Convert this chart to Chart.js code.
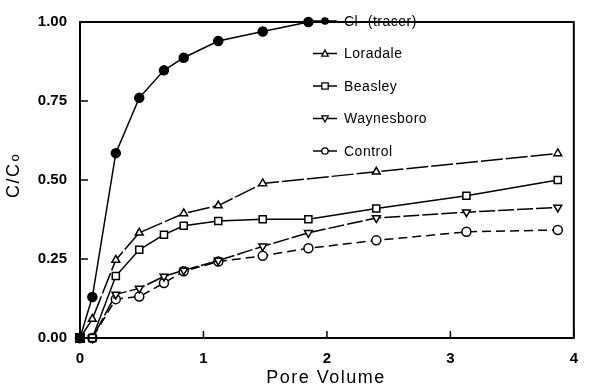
<!DOCTYPE html>
<html><head><meta charset="utf-8">
<script src="https://cdn.jsdelivr.net/npm/chart.js@4/dist/chart.umd.min.js"></script>
<style>html,body{margin:0;padding:0;background:#fff}#wrap{width:590px;height:387px}</style>
</head><body><div id="wrap"><canvas id="c" width="590" height="387"></canvas></div>
<script>
const seriesNames = ["Cl- (tracer)", "Loradale", "Beasley", "Waynesboro", "Control"];
const clPV = [0, 0.1, 0.29, 0.48, 0.68, 0.84, 1.12, 1.48, 1.85];
const clC  = [0, 0.13, 0.585, 0.76, 0.847, 0.887, 0.94, 0.97, 1.0];
const loPV = [0, 0.1, 0.29, 0.48, 0.84, 1.12, 1.48, 2.40, 3.87];
const loC  = [0, 0.06, 0.247, 0.333, 0.394, 0.419, 0.489, 0.526, 0.584];
const soilPV = [0, 0.1, 0.29, 0.48, 0.68, 0.84, 1.12, 1.48, 1.85, 2.40, 3.13, 3.87];
const beC  = [0, 0, 0.196, 0.279, 0.327, 0.355, 0.37, 0.376, 0.376, 0.41, 0.45, 0.50];
const waC  = [0, 0, 0.138, 0.157, 0.195, 0.214, 0.245, 0.29, 0.333, 0.38, 0.398, 0.413];
const coC  = [0, 0, 0.123, 0.131, 0.174, 0.211, 0.242, 0.26, 0.284, 0.309, 0.336, 0.342];
const yTicks = [0, 0.25, 0.5, 0.75, 1.0];
const xTicks = [0, 1, 2, 3, 4];
const xTitle = "Pore Volume";
const yTitleMain = "C/C", yTitleSub = "o";

const pts = (xs, ys) => xs.map((x, i) => ({x, y: ys[i]}));

const base = {borderColor:'#000', borderWidth:1.5, pointRadius:4.5, pointBorderWidth:1.5,
  pointBorderColor:'#000', pointBackgroundColor:'#fff', tension:0, clip:false, fill:false};

const datasets = [
  Object.assign({}, base, {label: seriesNames[0], data: pts(clPV, clC), pointBackgroundColor:'#000',
     pointStyle: clPV.map((v,i)=> i===0 ? 'rect' : 'circle'), pointRadius: clPV.map((v,i)=> i===0 ? 6 : 4.5)}),
  Object.assign({}, base, {label: seriesNames[1], data: pts(loPV, loC), pointStyle:'triangle', borderDash:[22,3]}),
  Object.assign({}, base, {label: seriesNames[2], data: pts(soilPV, beC), pointStyle:'rect', pointRadius:5}),
  Object.assign({}, base, {label: seriesNames[3], data: pts(soilPV, waC), pointStyle:'triangle', pointRotation:180, borderDash:[16,3]}),
  Object.assign({}, base, {label: seriesNames[4], data: pts(soilPV, coC), pointStyle:'circle', borderDash:[9,5]}),
];

function drawMarker(ctx, ds, x, y, r) {
  const style = Array.isArray(ds.pointStyle) ? ds.pointStyle[1] : ds.pointStyle;
  ctx.save();
  ctx.fillStyle = ds.pointBackgroundColor; ctx.strokeStyle = '#000'; ctx.lineWidth = 1.3; ctx.setLineDash([]);
  ctx.beginPath();
  if (style === 'circle') { ctx.arc(x, y, r, 0, Math.PI*2); }
  else if (style === 'rect') { ctx.rect(x-r, y-r, 2*r, 2*r); }
  else if (style === 'triangle') {
    const s = ds.pointRotation === 180 ? -1 : 1;
    ctx.moveTo(x, y - s*r*1.1); ctx.lineTo(x + r, y + s*r*0.8); ctx.lineTo(x - r, y + s*r*0.8); ctx.closePath();
  }
  ctx.fill(); ctx.stroke(); ctx.restore();
}

const decor = {
  id:'decor',
  afterDraw(chart) {
    const ctx = chart.ctx, a = chart.chartArea, xs = chart.scales.x, ys = chart.scales.y;
    ctx.save();
    ctx.strokeStyle = '#000'; ctx.lineWidth = 2;
    ctx.strokeRect(a.left, a.top, a.right - a.left, a.bottom - a.top);
    ctx.lineWidth = 1.5;
    yTicks.forEach(v => { const py = ys.getPixelForValue(v); ctx.beginPath(); ctx.moveTo(a.left, py); ctx.lineTo(a.left + 8, py); ctx.stroke(); });
    xTicks.forEach(v => { const px = xs.getPixelForValue(v); ctx.beginPath(); ctx.moveTo(px, a.bottom); ctx.lineTo(px, a.bottom - 7); ctx.stroke(); });
    // axis titles
    ctx.fillStyle = '#000';
    ctx.font = '18px "Liberation Sans", Arial, sans-serif';
    try { ctx.letterSpacing = '1.5px'; } catch(e) {}
    ctx.textAlign = 'center'; ctx.textBaseline = 'alphabetic';
    ctx.fillText(xTitle, (a.left + a.right)/2 - 1, 383);
    ctx.save();
    ctx.translate(19, 176); ctx.rotate(-Math.PI/2);
    ctx.textAlign = 'left';
    const w = ctx.measureText(yTitleMain).width;
    ctx.font = '13px "Liberation Sans", Arial, sans-serif';
    const w2 = ctx.measureText(yTitleSub).width;
    const x0 = -(w + w2)/2;
    ctx.font = '18px "Liberation Sans", Arial, sans-serif';
    ctx.fillText(yTitleMain, x0, 0);
    ctx.font = '13px "Liberation Sans", Arial, sans-serif';
    ctx.fillText(yTitleSub, x0 + w + 1, 0);
    ctx.restore();
    // legend
    ctx.font = '14px "Liberation Sans", Arial, sans-serif';
    try { ctx.letterSpacing = '0.5px'; } catch(e) {}
    ctx.textAlign = 'left'; ctx.textBaseline = 'middle';
    chart.data.datasets.forEach((ds, i) => {
      const y = 21 + i * 32.5;
      ctx.save();
      ctx.strokeStyle = '#000'; ctx.lineWidth = 1.5;
      ctx.beginPath(); ctx.moveTo(313, y); ctx.lineTo(337, y); ctx.stroke();
      ctx.restore();
      drawMarker(ctx, ds, 325, y, 3.2);
      ctx.fillText(ds.label, 344, y + 1);
    });
    ctx.restore();
  }
};

new Chart(document.getElementById('c'), {
  type:'line',
  data:{datasets},
  options:{
    responsive:false, animation:false, devicePixelRatio:1,
    layout:{padding:{left:0, right:8, top:11, bottom:0}},
    plugins:{legend:{display:false}, tooltip:{enabled:false}},
    scales:{
      x:{type:'linear', min:0, max:4,
        afterFit(s){ s.height = 49; },
        afterBuildTicks(s){ s.ticks = xTicks.map(v=>({value:v})); },
        grid:{display:false, drawTicks:false}, border:{display:false},
        ticks:{color:'#000', padding:12, font:{family:'"Liberation Sans", Arial, sans-serif', size:15, weight:'bold'}, callback:v=>String(v)}},
      y:{type:'linear', min:0, max:1,
        afterFit(s){ s.width = 80; },
        afterBuildTicks(s){ s.ticks = yTicks.map(v=>({value:v})); },
        grid:{display:false, drawTicks:false}, border:{display:false},
        ticks:{color:'#000', padding:13, font:{family:'"Liberation Sans", Arial, sans-serif', size:15, weight:'bold'}, callback:v=>Number(v).toFixed(2)}}
    }
  },
  plugins:[decor]
});
</script></body></html>
